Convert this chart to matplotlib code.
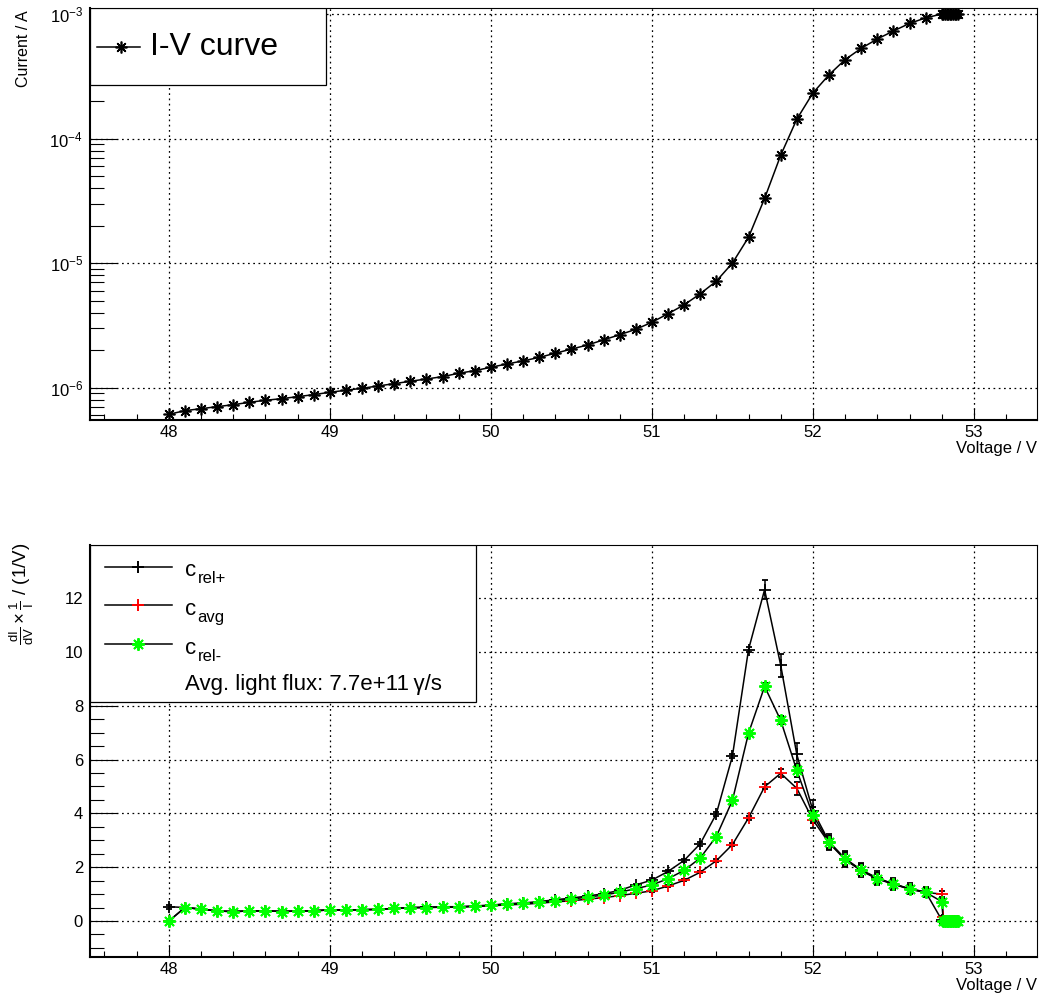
import numpy as np
import matplotlib
matplotlib.use("Agg")
import matplotlib.pyplot as plt
from matplotlib.ticker import LogLocator, MultipleLocator, NullFormatter
from matplotlib.patches import Rectangle
from matplotlib.lines import Line2D

plt.rcParams['font.family'] = ['Liberation Sans', 'DejaVu Sans']
plt.rcParams['mathtext.fontset'] = 'custom'
plt.rcParams['mathtext.rm'] = 'Liberation Sans'
plt.rcParams['mathtext.it'] = 'Liberation Sans:italic'
plt.rcParams['mathtext.bf'] = 'Liberation Sans:bold'

# voltage steps (last ones are the compliance region)
voltage = [48.0, 48.1, 48.2, 48.3, 48.4, 48.5, 48.6, 48.7, 48.8, 48.9,
           49.0, 49.1, 49.2, 49.3, 49.4, 49.5, 49.6, 49.7, 49.8, 49.9,
           50.0, 50.1, 50.2, 50.3, 50.4, 50.5, 50.6, 50.7, 50.8, 50.9,
           51.0, 51.1, 51.2, 51.3, 51.4, 51.5, 51.6, 51.7, 51.8, 51.9,
           52.0, 52.1, 52.2, 52.3, 52.4, 52.5, 52.6, 52.7, 52.8,
           52.81, 52.82, 52.83, 52.84, 52.85, 52.86, 52.87, 52.88, 52.89, 52.90]

# I-V curve in A
current = [6.11e-7, 6.54e-7, 6.78e-7, 7.04e-7, 7.30e-7, 7.63e-7, 7.92e-7, 8.16e-7, 8.47e-7, 8.79e-7,
           9.19e-7, 9.53e-7, 9.89e-7, 1.032e-6, 1.077e-6, 1.126e-6, 1.174e-6, 1.226e-6, 1.305e-6, 1.369e-6,
           1.458e-6, 1.55e-6, 1.64e-6, 1.75e-6, 1.89e-6, 2.04e-6, 2.20e-6, 2.42e-6, 2.66e-6, 2.94e-6,
           3.35e-6, 3.92e-6, 4.62e-6, 5.67e-6, 7.16e-6, 1.00e-5, 1.61e-5, 3.31e-5, 7.34e-5, 1.43e-4,
           2.32e-4, 3.25e-4, 4.3e-4, 5.3e-4, 6.3e-4, 7.3e-4, 8.4e-4, 9.3e-4, 1.0e-3,
           1.0e-3, 1.0e-3, 1.0e-3, 1.0e-3, 1.0e-3, 1.0e-3, 1.0e-3, 1.0e-3, 1.0e-3, 1.0e-3]

# dI/dV * 1/I
c_rel_plus = [0.53, 0.50, 0.44, 0.37, 0.35, 0.37, 0.38, 0.35, 0.37, 0.38,
              0.41, 0.41, 0.42, 0.43, 0.47, 0.50, 0.51, 0.53, 0.53, 0.56,
              0.59, 0.64, 0.67, 0.72, 0.79, 0.85, 0.93, 1.01, 1.14, 1.34,
              1.52, 1.84, 2.25, 2.87, 3.98, 6.13, 10.09, 12.32, 9.51, 6.19,
              4.10, 2.95, 2.32, 1.90, 1.60, 1.38, 1.20, 1.08, 0.04,
              0.0, 0.0, 0.0, 0.0, 0.0, 0.0, 0.0, 0.0, 0.0, 0.0]
c_avg = [0.0, 0.50, 0.44, 0.37, 0.35, 0.37, 0.38, 0.35, 0.37, 0.38,
         0.41, 0.41, 0.42, 0.43, 0.47, 0.49, 0.50, 0.51, 0.51, 0.54,
         0.56, 0.60, 0.62, 0.66, 0.71, 0.75, 0.81, 0.87, 0.94, 1.03,
         1.12, 1.30, 1.51, 1.81, 2.24, 2.84, 3.83, 4.99, 5.49, 4.93,
         3.76, 2.90, 2.28, 1.87, 1.56, 1.37, 1.18, 1.06, 1.00,
         0.15, 0.0, 0.0, 0.0, 0.0, 0.0, 0.0, 0.0, 0.0, 0.0]
c_rel_minus = [0.0, 0.50, 0.44, 0.37, 0.35, 0.37, 0.38, 0.35, 0.37, 0.38,
               0.41, 0.41, 0.42, 0.43, 0.47, 0.50, 0.50, 0.52, 0.52, 0.55,
               0.58, 0.63, 0.65, 0.70, 0.76, 0.81, 0.89, 0.96, 1.07, 1.20,
               1.34, 1.57, 1.88, 2.34, 3.14, 4.48, 6.98, 8.72, 7.46, 5.60,
               3.93, 2.92, 2.30, 1.88, 1.57, 1.38, 1.19, 1.07, 0.72,
               0.0, 0.0, 0.0, 0.0, 0.0, 0.0, 0.0, 0.0, 0.0, 0.0]

# uncertainties
err_rel_plus = [0.08, 0.03, 0.03, 0.03, 0.03, 0.03, 0.03, 0.03, 0.03, 0.03,
                0.03, 0.03, 0.03, 0.03, 0.03, 0.03, 0.03, 0.03, 0.03, 0.03,
                0.03, 0.03, 0.03, 0.03, 0.03, 0.04, 0.04, 0.04, 0.05, 0.05,
                0.06, 0.06, 0.07, 0.08, 0.08, 0.08, 0.08, 0.35, 0.42, 0.43,
                0.40, 0.30, 0.30, 0.27, 0.25, 0.22, 0.20, 0.20, 0.12,
                0.03, 0.03, 0.03, 0.03, 0.03, 0.03, 0.03, 0.03, 0.03, 0.03]
err_avg = [0.03, 0.02, 0.02, 0.02, 0.02, 0.02, 0.02, 0.02, 0.02, 0.02,
           0.02, 0.02, 0.02, 0.02, 0.02, 0.02, 0.02, 0.02, 0.02, 0.02,
           0.02, 0.02, 0.02, 0.02, 0.02, 0.02, 0.02, 0.03, 0.03, 0.03,
           0.03, 0.03, 0.04, 0.04, 0.05, 0.05, 0.06, 0.10, 0.15, 0.25,
           0.30, 0.20, 0.20, 0.20, 0.18, 0.16, 0.15, 0.15, 0.10,
           0.03, 0.03, 0.03, 0.03, 0.03, 0.03, 0.03, 0.03, 0.03, 0.03]
err_rel_minus = [0.03, 0.02, 0.02, 0.02, 0.02, 0.02, 0.02, 0.02, 0.02, 0.02,
                 0.02, 0.02, 0.02, 0.02, 0.02, 0.02, 0.02, 0.02, 0.02, 0.02,
                 0.02, 0.02, 0.02, 0.02, 0.02, 0.03, 0.03, 0.03, 0.03, 0.04,
                 0.04, 0.04, 0.05, 0.05, 0.06, 0.07, 0.08, 0.12, 0.15, 0.25,
                 0.30, 0.25, 0.25, 0.22, 0.20, 0.18, 0.16, 0.16, 0.10,
                 0.03, 0.03, 0.03, 0.03, 0.03, 0.03, 0.03, 0.03, 0.03, 0.03]

light_flux = "7.7e+11"

star = (8, 2, 0)  # ROOT style asterisk marker
grid_dots = (0, (1.4, 2.8))

fig = plt.figure(figsize=(10.4, 9.93), dpi=100)
W, H = 1040.0, 993.0


def style_axes(ax):
    # ROOT like frame: thick axis lines, thin top/right
    ax.spines['left'].set_linewidth(1.5)
    ax.spines['bottom'].set_linewidth(1.5)
    ax.spines['top'].set_linewidth(0.8)
    ax.spines['right'].set_linewidth(0.8)
    ax.tick_params(axis='x', which='major', direction='in', length=8.5, width=0.8, labelsize=12, pad=3.5)
    ax.tick_params(axis='x', which='minor', direction='in', length=4.5, width=0.8)
    ax.tick_params(axis='y', which='major', direction='in', length=19.5, width=0.8, labelsize=12, pad=5)
    ax.tick_params(axis='y', which='minor', direction='in', length=10, width=0.8)
    ax.xaxis.set_major_locator(MultipleLocator(1))
    ax.xaxis.set_minor_locator(MultipleLocator(0.2))
    ax.grid(True, which='major', color='black', linestyle=grid_dots, linewidth=0.9)
    ax.set_xlim(47.51, 53.39)
    ax.text(1.0, -0.068, "Voltage / V", transform=ax.transAxes, ha='right', va='center', fontsize=12)


# ---- top panel: I-V curve ----
ax1 = fig.add_axes([90 / W, 1 - 420 / H, 946.7 / W, 412 / H])
ax1.plot(voltage, current, color='black', linewidth=1.1, marker=star, markersize=8.5,
         markeredgewidth=1.2, zorder=3)
ax1.set_yscale('log')
ax1.set_ylim(5.5e-7, 1.117e-3)
ax1.yaxis.set_major_locator(LogLocator(base=10))
ax1.yaxis.set_minor_locator(LogLocator(base=10, subs=np.arange(2, 10)))
ax1.yaxis.set_minor_formatter(NullFormatter())
style_axes(ax1)
fig.text(24 / W, 1 - 10 / H, "Current / A", rotation=90, ha='center', va='top', fontsize=11.5)

# legend box drawn ROOT style
ax1.add_patch(Rectangle((0, 0.813), 0.2493, 0.187, transform=ax1.transAxes, facecolor='white',
                        edgecolor='black', linewidth=0.9, zorder=5))
ax1.add_line(Line2D([0.0074, 0.0528], [0.906, 0.906], transform=ax1.transAxes, color='black',
                    linewidth=1.1, zorder=6))
ax1.add_line(Line2D([0.0325], [0.906], transform=ax1.transAxes, color='black', linestyle='none',
                    marker=star, markersize=8.5, markeredgewidth=1.2, zorder=6))
ax1.text(0.0634, 0.906, "I-V curve", transform=ax1.transAxes, ha='left', va='center',
         fontsize=23, zorder=6)

# ---- bottom panel: relative derivative ----
ax2 = fig.add_axes([90 / W, 1 - 957 / H, 946.7 / W, 412 / H])
ax2.errorbar(voltage, c_rel_plus, yerr=err_rel_plus, color='black', linewidth=1.1, marker='+',
             markersize=9, markeredgewidth=1.3, ecolor='black', elinewidth=1.1, capsize=2.5, zorder=3)
ax2.errorbar(voltage, c_avg, yerr=err_avg, color='black', linewidth=1.1, marker='+',
             markersize=9, markeredgewidth=1.3, markeredgecolor='#ff0000', markerfacecolor='#ff0000',
             ecolor='black', elinewidth=1.1, capsize=2.5, zorder=3)
ax2.errorbar(voltage, c_rel_minus, yerr=err_rel_minus, color='black', linewidth=1.1, marker=star,
             markersize=9, markeredgewidth=1.4, markeredgecolor='#00ff00', markerfacecolor='#00ff00',
             ecolor='black', elinewidth=1.1, capsize=2.5, zorder=3)
ax2.set_ylim(-1.34, 13.98)
ax2.yaxis.set_major_locator(MultipleLocator(2))
ax2.yaxis.set_minor_locator(MultipleLocator(0.5))
style_axes(ax2)
fig.text(22 / W, 1 - 543 / H, r'$\frac{\mathrm{dI}}{\mathrm{dV}}\times\frac{1}{\mathrm{I}}$ / (1/V)',
         rotation=90, ha='center', va='top', fontsize=13.5)

ax2.add_patch(Rectangle((0, 0.618), 0.4077, 0.382, transform=ax2.transAxes, facecolor='white',
                        edgecolor='black', linewidth=0.9, zorder=5))
legend_rows = [('rel+', '+', 'black', 0.9478),
               ('avg', '+', '#ff0000', 0.8532),
               ('rel-', star, '#00ff00', 0.7585)]
for sub, mk, col, yy in legend_rows:
    ax2.add_line(Line2D([0.0159, 0.0863], [yy, yy], transform=ax2.transAxes, color='black',
                        linewidth=1.1, zorder=6))
    ax2.add_line(Line2D([0.0511], [yy], transform=ax2.transAxes, linestyle='none', marker=mk,
                        markersize=9, markeredgewidth=1.4, color=col, zorder=7))
    ax2.text(0.1003, yy - 0.01, "c", transform=ax2.transAxes, ha='left', va='center',
             fontsize=16, zorder=6)
    ax2.annotate(sub, xy=(0.1003, yy - 0.01), xycoords='axes fraction', xytext=(9, -6),
                 textcoords='offset points', ha='left', va='center', fontsize=12, zorder=6)
ax2.text(0.1003, 0.6614, "Avg. light flux: " + light_flux + "\u2009γ/s", transform=ax2.transAxes,
         ha='left', va='center', fontsize=16, zorder=6)

plt.savefig("out.png", dpi=100)
